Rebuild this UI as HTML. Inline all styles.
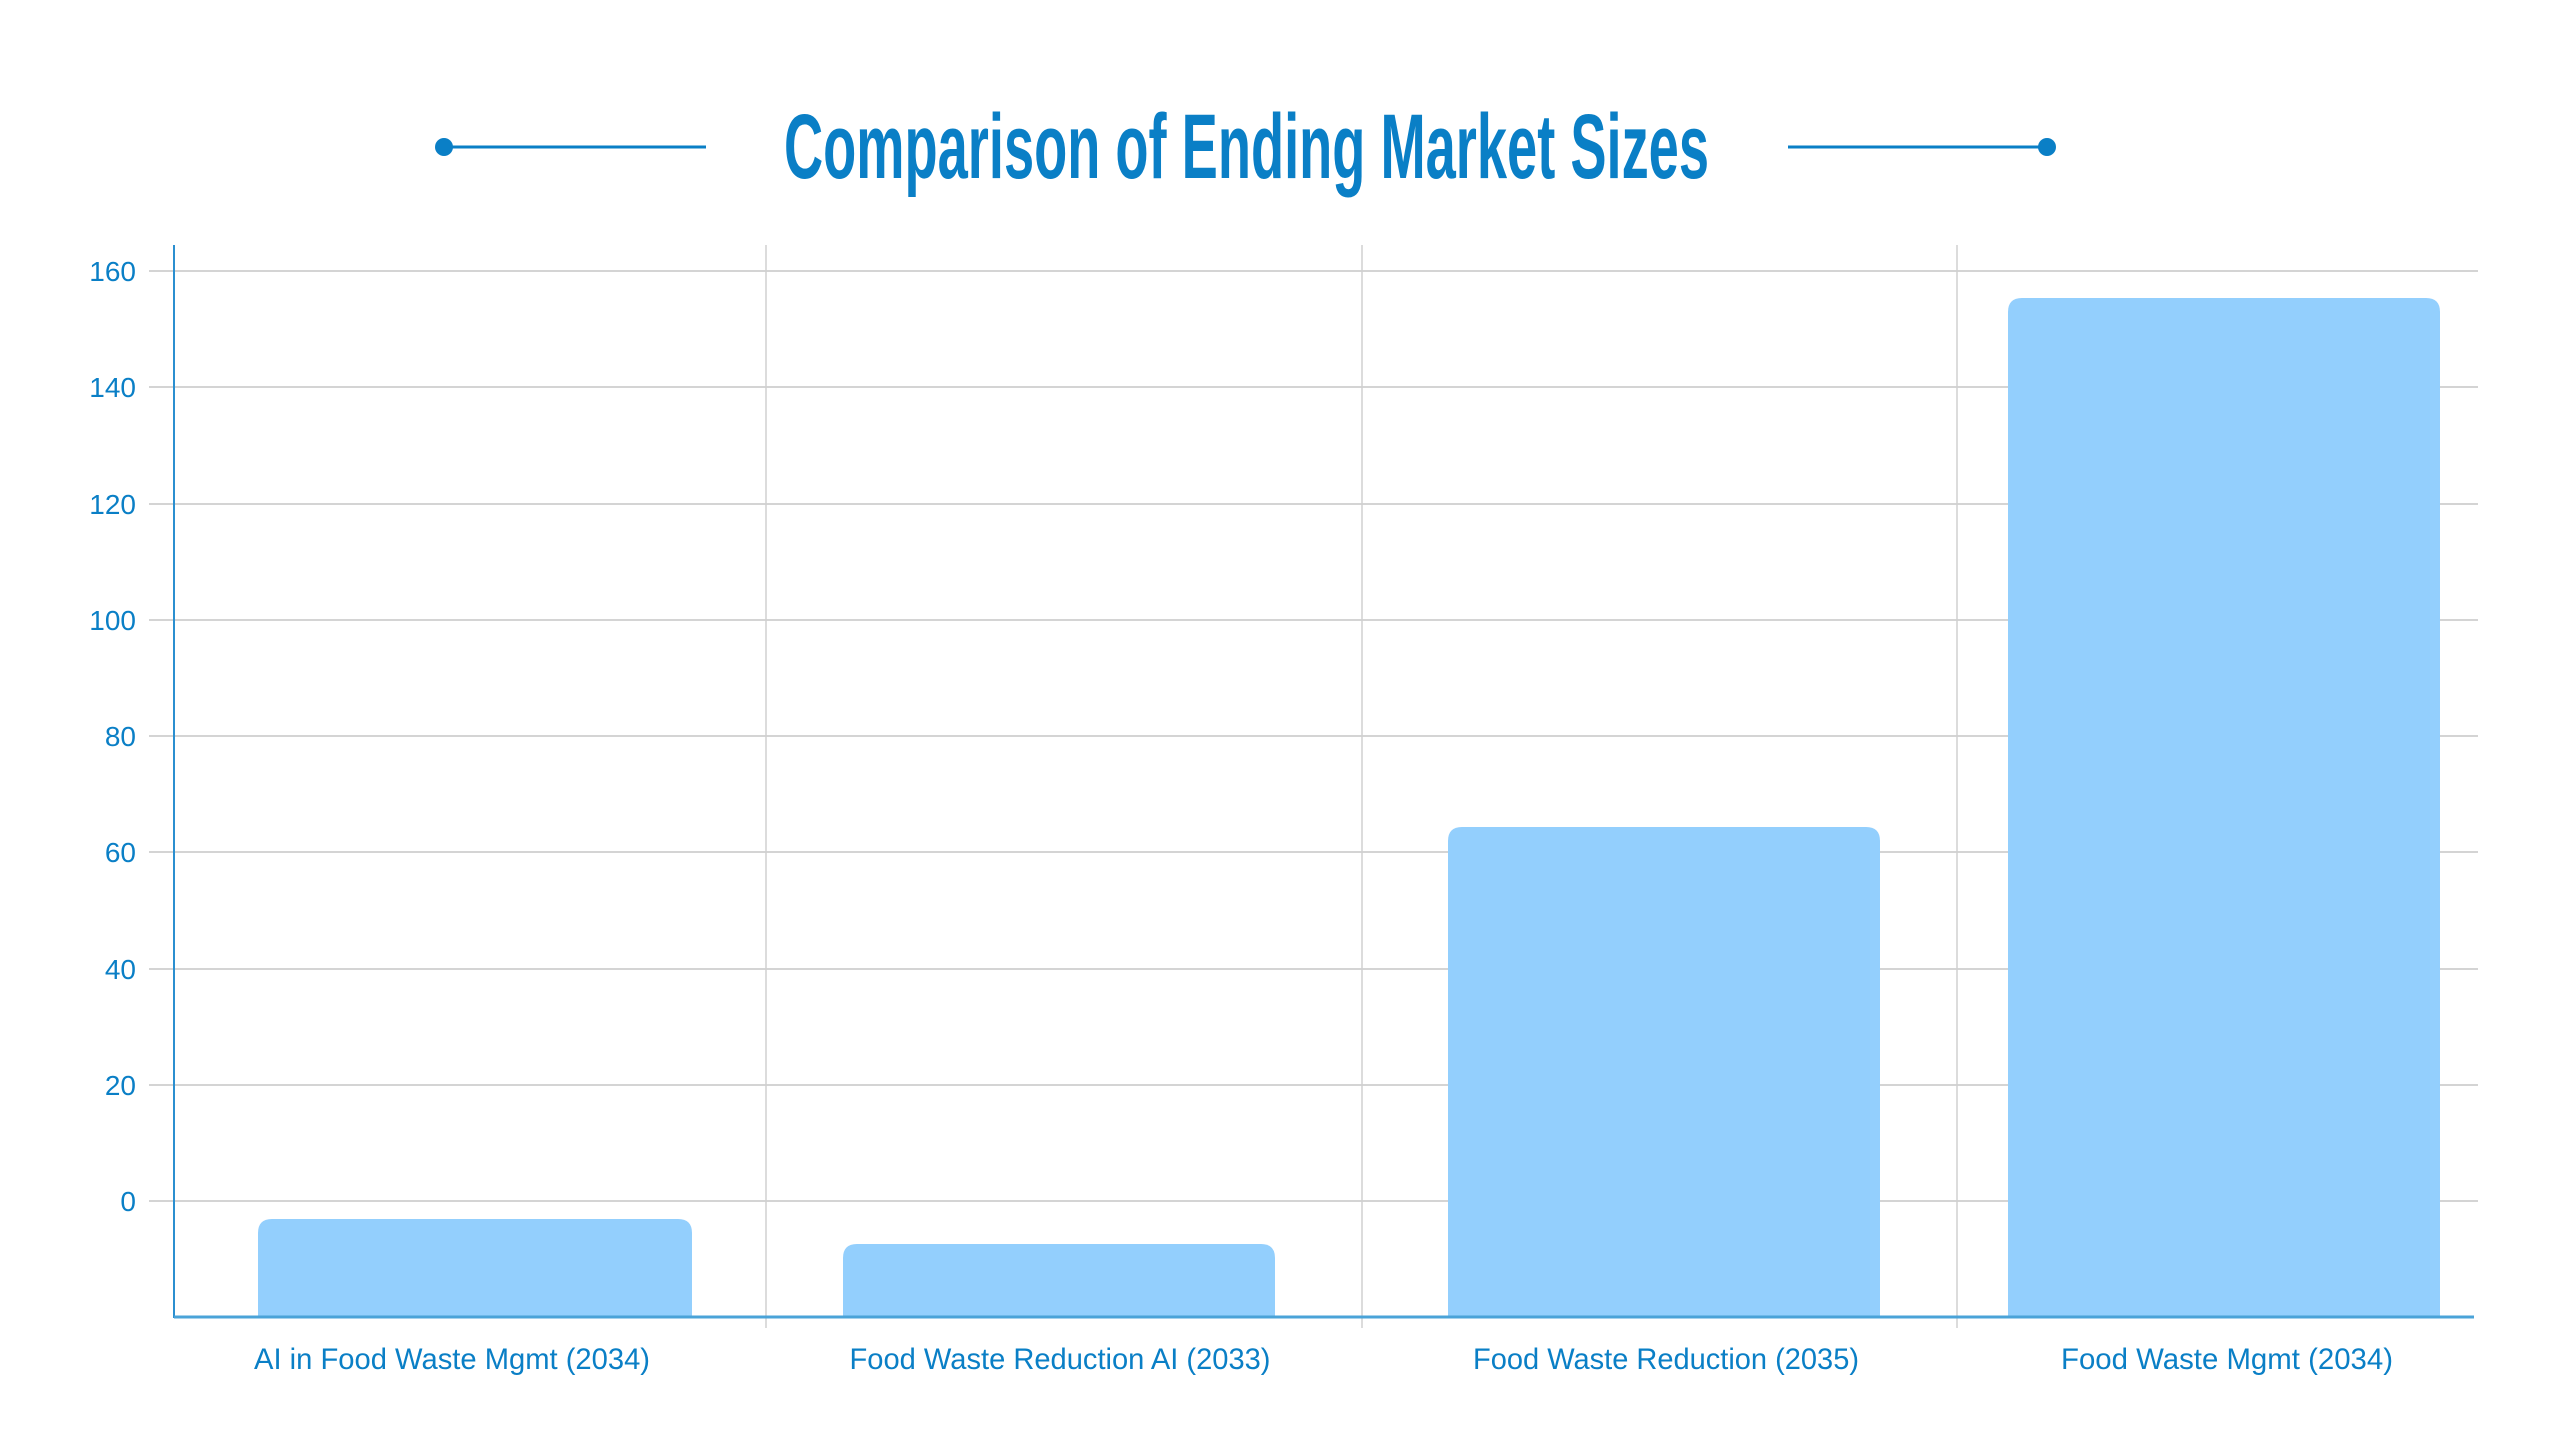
<!DOCTYPE html>
<html><head><meta charset="utf-8"><style>
html,body{margin:0;padding:0;background:#fff;width:2560px;height:1440px;overflow:hidden}
svg{display:block}
</style></head><body>
<svg width="2560" height="1440" viewBox="0 0 2560 1440" xmlns="http://www.w3.org/2000/svg">
<g stroke="#0a7fc6" stroke-width="3">
<line x1="444" y1="147" x2="706" y2="147"/>
<line x1="1788" y1="147" x2="2047" y2="147"/>
</g>
<circle cx="444" cy="147" r="9" fill="#0a7fc6"/>
<circle cx="2047" cy="147" r="9" fill="#0a7fc6"/>
<text x="784" y="178" textLength="925" lengthAdjust="spacingAndGlyphs" font-family="'Liberation Sans Narrow','Liberation Sans',sans-serif" font-weight="bold" font-size="92" fill="#0a7fc6">Comparison of Ending Market Sizes</text>

<g stroke="#d4d4d4" stroke-width="2">
<line x1="149" y1="271" x2="2478" y2="271"/>
<line x1="149" y1="387" x2="2478" y2="387"/>
<line x1="149" y1="504" x2="2478" y2="504"/>
<line x1="149" y1="620" x2="2478" y2="620"/>
<line x1="149" y1="736" x2="2478" y2="736"/>
<line x1="149" y1="852" x2="2478" y2="852"/>
<line x1="149" y1="969" x2="2478" y2="969"/>
<line x1="149" y1="1085" x2="2478" y2="1085"/>
<line x1="149" y1="1201" x2="2478" y2="1201"/>
</g>
<g stroke="#d0d0d0" stroke-width="1.5">
<line x1="766" y1="245" x2="766" y2="1328"/>
<line x1="1362" y1="245" x2="1362" y2="1328"/>
<line x1="1957" y1="245" x2="1957" y2="1328"/>
</g>
<g fill="#93cffd">
<path d="M258 1317 V1233 Q258 1219 272 1219 H678 Q692 1219 692 1233 V1317 Z"/>
<path d="M843 1317 V1258 Q843 1244 857 1244 H1261 Q1275 1244 1275 1258 V1317 Z"/>
<path d="M1448 1317 V841 Q1448 827 1462 827 H1866 Q1880 827 1880 841 V1317 Z"/>
<path d="M2008 1317 V312 Q2008 298 2022 298 H2426 Q2440 298 2440 312 V1317 Z"/>
</g>
<line x1="174" y1="245" x2="174" y2="1318" stroke="#2b8fd0" stroke-width="2"/>
<line x1="174" y1="1317" x2="2474" y2="1317" stroke="#4aa3d8" stroke-width="3"/>
<g font-family="'Liberation Sans',sans-serif" font-size="28" fill="#0a7fc6" text-anchor="end">
<text x="136" y="281">160</text>
<text x="136" y="397">140</text>
<text x="136" y="514">120</text>
<text x="136" y="630">100</text>
<text x="136" y="746">80</text>
<text x="136" y="862">60</text>
<text x="136" y="979">40</text>
<text x="136" y="1095">20</text>
<text x="136" y="1211">0</text>
</g>
<g font-family="'Liberation Sans Narrow','Liberation Sans',sans-serif" font-size="30" fill="#0a7fc6" text-anchor="middle">
<text x="452" y="1369" textLength="396" lengthAdjust="spacingAndGlyphs">AI in Food Waste Mgmt (2034)</text>
<text x="1060" y="1369" textLength="421" lengthAdjust="spacingAndGlyphs">Food Waste Reduction AI (2033)</text>
<text x="1666" y="1369" textLength="386" lengthAdjust="spacingAndGlyphs">Food Waste Reduction (2035)</text>
<text x="2227" y="1369" textLength="332" lengthAdjust="spacingAndGlyphs">Food Waste Mgmt (2034)</text>
</g>
</svg>
</body></html>
